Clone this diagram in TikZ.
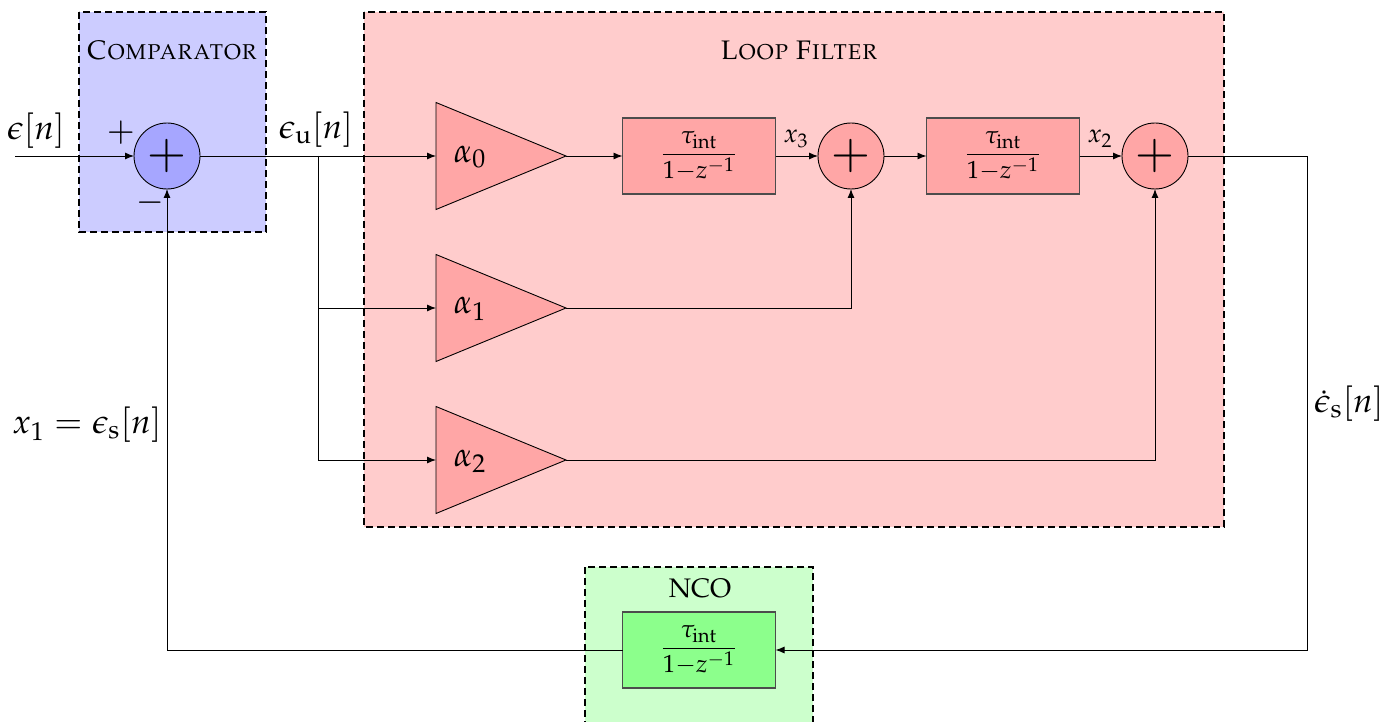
\documentclass[tikz,border=0pt]{standalone}
\usepackage[T1]{fontenc}
\usepackage{mathpazo}
\usepackage{amsmath}
\usetikzlibrary{shapes.geometric,arrows.meta,calc}
\DeclareMathSizes{12.4}{12.4}{9.9}{7.4}
\definecolor{bluebg}{RGB}{204,204,255}
\definecolor{blueblk}{RGB}{166,166,255}
\definecolor{redbg}{RGB}{255,204,204}
\definecolor{redblk}{RGB}{255,166,166}
\definecolor{greenbg}{RGB}{204,255,204}
\definecolor{greenblk}{RGB}{140,255,140}
\newcommand{\intfrac}{$\dfrac{\tau_{\mathrm{int}}}{1{-}z^{-1}}$}
\tikzset{
  bgbox/.style={draw=black, line width=1pt, dash pattern=on 3.5pt off 2pt},
  sumnode/.style={circle, draw=black, line width=0.45pt, minimum size=33pt, inner sep=0pt, outer sep=0pt, font=\fontsize{24}{24}\selectfont},
  blocknode/.style={rectangle, draw=black!70, line width=0.6pt, minimum width=76.5pt, minimum height=38pt, inner sep=0pt, outer sep=0pt, font=\fontsize{12.4}{14}\selectfont},
  ampnode/.style={isosceles triangle, isosceles triangle stretches, draw=black, line width=0.45pt, fill=redblk, minimum width=53.5pt, minimum height=65pt, inner sep=0pt, outer sep=0pt, anchor=west},
  lbl/.style={font=\fontsize{17}{20}\selectfont, inner sep=0pt},
  ttl/.style={font=\fontsize{13.4}{15}\selectfont, inner sep=0pt},
  sml/.style={font=\fontsize{13}{15}\selectfont, inner sep=0pt},
  conn/.style={line width=0.45pt, -{Latex[length=4.5pt,width=3.5pt]}},
}
\begin{document}
\begin{tikzpicture}[x=0.5pt,y=-0.5pt]
\useasboundingbox (0,0) rectangle (1394,722);
% backgrounds
\path[fill=bluebg] (79,12) rectangle (266,232);
\path[fill=redbg] (364,12) rectangle (1224,527);
\path[fill=greenbg] (585,567) rectangle (813,740);
\draw[bgbox] (79,12) rectangle (266,232);
\draw[bgbox] (364,12) rectangle (1224,527);
\draw[bgbox] (585,567) rectangle (813,740);
% titles
\node[ttl] (tcomp) at (172,50) {\textsc{Comparator}};
\node[ttl] (tloop) at (799,50) {\textsc{Loop Filter}};
\node[ttl] (tnco) at (700,588) {NCO};
% nodes
\node[sumnode, fill=blueblk] (s1) at (167,156) {$+$};
\node[ampnode] (a0) at (436,156) {};
\node[ampnode] (a1) at (436,308) {};
\node[ampnode] (a2) at (436,460) {};
\node[lbl] (la0) at (470,157) {$\alpha_0$};
\node[lbl] (la1) at (470,309) {$\alpha_1$};
\node[lbl] (la2) at (470,461) {$\alpha_2$};
\node[blocknode, fill=redblk] (b1) at (699,156) {\intfrac};
\node[sumnode, fill=redblk] (s2) at (851,156) {$+$};
\node[blocknode, fill=redblk] (b2) at (1003,156) {\intfrac};
\node[sumnode, fill=redblk] (s3) at (1155,156) {$+$};
\node[blocknode, fill=greenblk] (n) at (699,650) {\intfrac};
% coordinates
\coordinate (in) at (15,156);
\coordinate (br) at (318,156);
\coordinate (rt) at (1307,156);
% connectors
\draw[conn] (in) -- (s1.west);
\draw[conn] (s1.east) -- (a0.west);
\draw[conn] (br) |- (a1.west);
\draw[conn] (br) |- (a2.west);
\draw[conn] (a0.apex) -- (b1.west);
\draw[conn] (b1.east) -- (s2.west);
\draw[conn] (s2.east) -- (b2.west);
\draw[conn] (b2.east) -- (s3.west);
\draw[conn] (a1.apex) -| (s2.south);
\draw[conn] (a2.apex) -| (s3.south);
\draw[conn] (s3.east) -- (rt) |- (n.east);
\draw[conn] (n.west) -| (s1.south);
% labels
\node[lbl] (lin) at (36,131) {$\epsilon[n]$};
\node[lbl] (lplus) at (121,133) {$+$};
\node[lbl] (lminus) at (150,203) {$-$};
\node[lbl] (lu) at (316,130) {$\epsilon_{\mathrm{u}}[n]$};
\node[sml] (lx3) at (796,139) {$x_3$};
\node[sml] (lx2) at (1100,139) {$x_2$};
\node[lbl] (lds) at (1349,404) {$\dot{\epsilon}_{\mathrm{s}}[n]$};
\node[lbl] (lx1) at (87,425) {$x_1 = \epsilon_{\mathrm{s}}[n]$};
\end{tikzpicture}
\end{document}
